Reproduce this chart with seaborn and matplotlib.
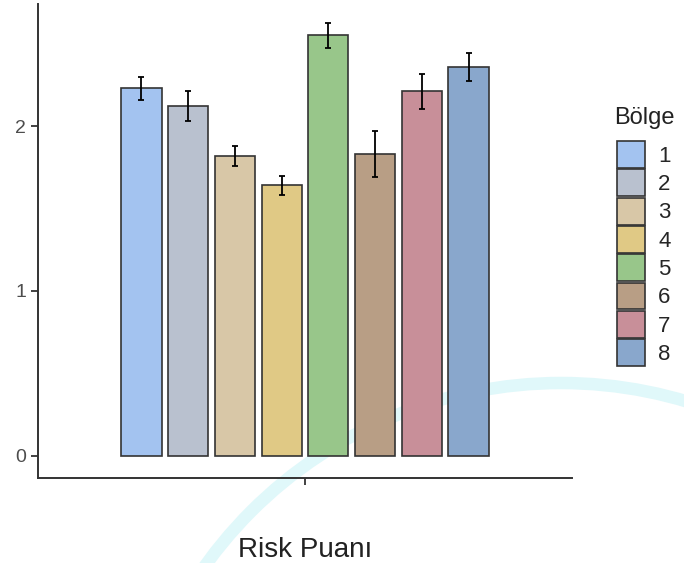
import pandas as pd
import matplotlib.pyplot as plt
import seaborn as sns
from matplotlib.patches import Circle

# ortalama risk puani ve standart hata (bolgelere gore)
bolge = ['1', '2', '3', '4', '5', '6', '7', '8']
risk_puani = [2.23, 2.12, 1.82, 1.64, 2.55, 1.83, 2.21, 2.36]
hata = [0.07, 0.09, 0.06, 0.06, 0.075, 0.14, 0.105, 0.085]
renkler = ['#a3c3f0', '#b9c1cf', '#d8c7a7', '#e0c985', '#98c68a',
           '#b89e85', '#c88f99', '#89a7cc']

data = pd.DataFrame({'x': [''] * len(bolge), 'Bölge': bolge, 'puan': risk_puani})

sns.set_style('white')
plt.rcParams['font.family'] = ['Liberation Sans', 'DejaVu Sans']

fig = plt.figure(figsize=(6.84, 5.63), dpi=100)

# arka plandaki soluk filigran halkasi
fig.patches.append(Circle((5.61, -2.58), 4.38, transform=fig.dpi_scale_trans,
                          fill=False, edgecolor='#e0f8fa', linewidth=9, zorder=-5))

ax = fig.add_axes([38 / 684, 85 / 563, 534 / 684, 474 / 563])
ax.patch.set_alpha(0)

sns.barplot(data=data, x='x', y='puan', hue='Bölge', palette=renkler,
            saturation=1, errorbar=None, width=0.84, gap=0.14,
            edgecolor='#333333', linewidth=1.2, ax=ax)

# hata cubuklari
xs, ys = [], []
for cont in ax.containers:
    for p in cont:
        xs.append(p.get_x() + p.get_width() / 2)
        ys.append(p.get_height())
ax.errorbar(xs, ys, yerr=hata, fmt='none', ecolor='black', elinewidth=1.3,
            capsize=2.5, capthick=1.3)

ax.set_xlim(-0.6, 0.6)
ax.set_ylim(-0.134, 2.74)
ax.set_yticks([0, 1, 2])
ax.set_yticklabels(['0', '1', '2'])
ax.set_xlabel('Risk Puanı', fontsize=20, color='#222222')
ax.xaxis.set_label_coords(0.5, -0.124)
ax.set_ylabel('')

for s in ['top', 'right']:
    ax.spines[s].set_visible(False)
for s in ['left', 'bottom']:
    ax.spines[s].set_color('#333333')
    ax.spines[s].set_linewidth(1.4)
ax.tick_params(axis='both', length=5, width=1.3, color='#333333',
               labelsize=14, labelcolor='#4d4d4d', left=True, bottom=True)

handles, labels = ax.get_legend_handles_labels()
ax.legend(handles, labels, loc='upper left',
          bbox_to_anchor=(617 / 684, 1 - 141 / 563), bbox_transform=fig.transFigure,
          frameon=False, fontsize=16, handlelength=1.25, handleheight=1.49,
          labelspacing=0.06, handletextpad=0.6, borderpad=0, borderaxespad=0)
fig.text(614 / 684, 1 - 118 / 563, 'Bölge', fontsize=17, color='#222222',
         ha='left', va='center')

plt.savefig('out.png', dpi=100)
